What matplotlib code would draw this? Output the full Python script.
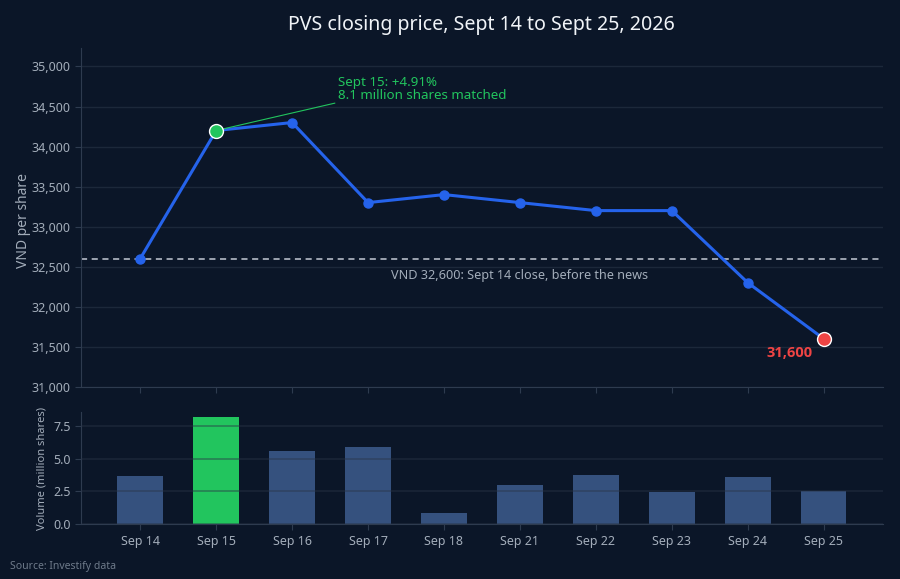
import matplotlib.pyplot as plt
import numpy as np

plt.rcParams['font.family'] = ['Noto Sans', 'DejaVu Sans']

dates = ['Sep 14', 'Sep 15', 'Sep 16', 'Sep 17', 'Sep 18',
         'Sep 21', 'Sep 22', 'Sep 23', 'Sep 24', 'Sep 25']
close = [32600, 34200, 34300, 33300, 33400, 33300, 33200, 33200, 32300, 31600]
volume = [3.67, 8.14, 5.57, 5.88, 0.84, 2.97, 3.75, 2.47, 3.56, 2.54]
ref_close = 32600
spike_idx = 1

bg = '#0b1628'
grid_c = '#1c283a'
spine_c = '#2e3b4f'
text_c = '#a3adba'
blue = '#2563eb'
green = '#22c55e'
red = '#ef4444'

x = np.arange(len(dates))

fig = plt.figure(figsize=(9, 5.79), dpi=100, facecolor=bg)
ax = fig.add_axes([0.09, 0.332, 0.891, 0.585])
axv = fig.add_axes([0.09, 0.0945, 0.891, 0.1945])

for a in (ax, axv):
    a.set_facecolor(bg)
    for s in ('top', 'right'):
        a.spines[s].set_visible(False)
    for s in ('left', 'bottom'):
        a.spines[s].set_color(spine_c)
    a.tick_params(colors=spine_c, labelcolor=text_c, labelsize=9, length=4)
    a.set_xlim(-0.78, len(dates) - 1 + 0.78)
    a.set_xticks(x)

ax.set_axisbelow(True)
ax.grid(axis='y', color=grid_c, linewidth=1)
# grid over the bars, semi-transparent like the original
axv.set_axisbelow(False)
axv.grid(axis='y', color='#2a3446', alpha=0.45, linewidth=1.3)

# price panel
ax.plot(x, close, color=blue, linewidth=2.2, marker='o', markersize=6.5, zorder=3)
ax.plot(x[spike_idx], close[spike_idx], 'o', color=green, markersize=10,
        markeredgecolor='white', markeredgewidth=1, zorder=4)
ax.plot(x[-1], close[-1], 'o', color=red, markersize=10,
        markeredgecolor='white', markeredgewidth=1, zorder=4)
ax.axhline(ref_close, color='#c3cad5', linewidth=1.1, linestyle=(0, (4, 3)), zorder=2)
ax.set_ylim(31000, 35230)
ax.set_yticks(np.arange(31000, 35001, 500))
ax.set_yticklabels([f'{v:,}' for v in range(31000, 35001, 500)])
ax.set_xticklabels([])
ax.set_ylabel('VND per share', color=text_c, fontsize=10)
ax.yaxis.set_label_coords(-0.062, 0.49)

ax.annotate(f'VND {ref_close:,}: Sept 14 close, before the news',
            xy=(5, ref_close), xytext=(0, -17), textcoords='offset pixels',
            ha='center', va='center', color=text_c, fontsize=9.1)
ax.annotate('Sept 15: +4.91%\n8.1 million shares matched',
            xy=(x[spike_idx], close[spike_idx]), xytext=(2.6, 34560),
            ha='left', va='bottom', color=green, fontsize=9.6, linespacing=1.0,
            arrowprops=dict(arrowstyle='-', color=green, linewidth=0.8,
                            relpos=(0.02, 0), shrinkA=0, shrinkB=4))
ax.annotate(f'{close[-1]:,}', xy=(x[-1], close[-1]), xytext=(-11, -14),
            textcoords='offset pixels', ha='right', va='center',
            color=red, fontsize=10.5, fontweight='bold',
            family=['Open Sans', 'DejaVu Sans'])

# volume panel
bar_colors = [green if i == spike_idx else '#35517e' for i in range(len(dates))]
axv.bar(x, volume, width=0.6, color=bar_colors, zorder=2)
axv.set_ylim(0, 8.56)
axv.set_yticks([0, 2.5, 5, 7.5])
axv.set_yticklabels(['0.0', '2.5', '5.0', '7.5'])
axv.set_xticklabels(dates)
axv.set_ylabel('Volume (million shares)', color=text_c, fontsize=8)
axv.yaxis.set_label_coords(-0.042, 0.5)

fig.text(0.535, 0.957, 'PVS closing price, Sept 14 to Sept 25, 2026',
         ha='center', va='center', color='#f1f4f8', fontsize=14.1)
fig.text(0.011, 0.022, 'Source: Investify data', ha='left', va='center',
         color='#6e7a8a', fontsize=7.5)

fig.savefig('out.png', dpi=100, facecolor=bg)
